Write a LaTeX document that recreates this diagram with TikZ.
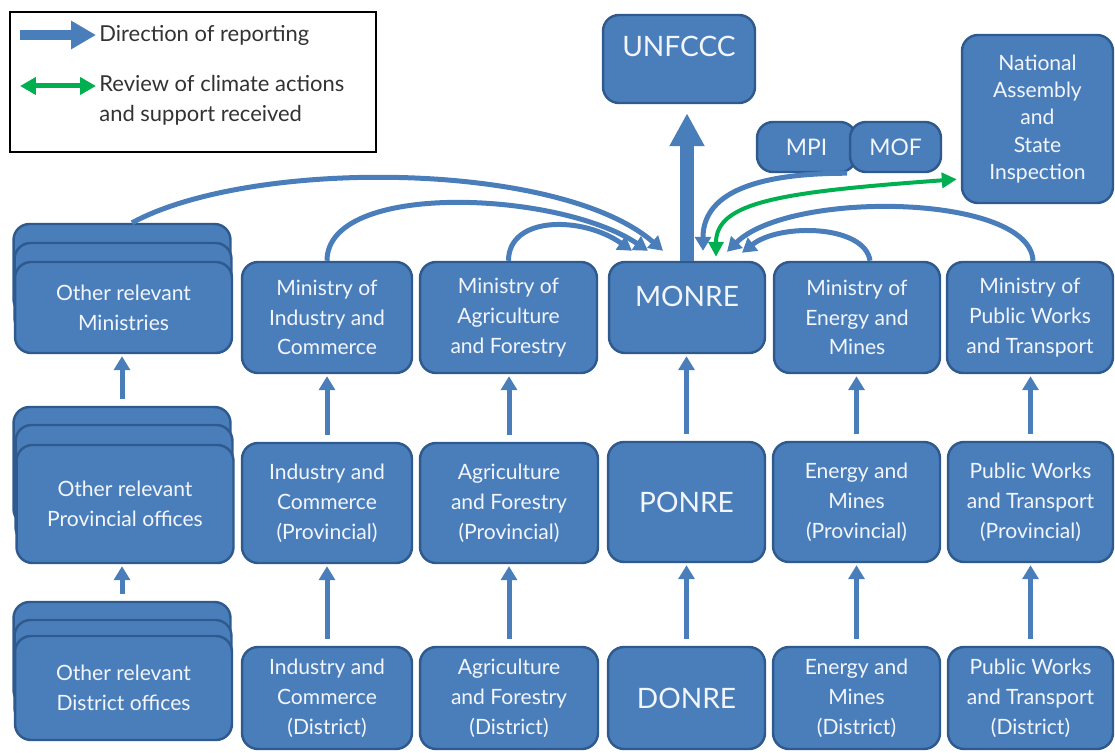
\documentclass[tikz,border=0pt]{standalone}
\usepackage{fontspec}
\setmainfont{Lato}
\usetikzlibrary{arrows.meta}
\definecolor{boxfill}{HTML}{4A7EBB}
\definecolor{boxedge}{HTML}{2F5A8E}
\definecolor{flowblue}{HTML}{4A7EBB}
\definecolor{reviewgreen}{HTML}{00B050}
\definecolor{keytext}{HTML}{333333}
\definecolor{boxtext}{HTML}{F2F5FA}
\tikzset{
    agency/.style={draw=boxedge, fill=boxfill, line width=1.4pt, rounded corners=0.32cm,
        text=boxtext, align=center, inner sep=2pt, font=\fontsize{12}{17}\selectfont},
    bigtext/.style={font=\fontsize{16}{19}\selectfont},
    report/.style={draw=flowblue, line width=0.1cm, -{Triangle[width=0.32cm,length=0.28cm]},
        shorten <=0.14cm, shorten >=0.04cm},
    bend report/.style={draw=flowblue, line width=0.1cm, -{Triangle[width=0.32cm,length=0.28cm]}},
    upward/.style={draw=flowblue, line width=0.28cm, -{Triangle[width=0.66cm,length=0.66cm]},
        shorten >=0.18cm},
    review/.style={draw=reviewgreen, line width=0.08cm,
        {Triangle[width=0.3cm,length=0.3cm]}-{Triangle[width=0.3cm,length=0.3cm]}},
    keytext/.style={text=keytext, anchor=west, align=left, inner sep=0pt,
        font=\fontsize{12.5}{17}\selectfont}
}

\begin{document}
\begin{tikzpicture}[x=0.02cm, y=-0.02cm]
    \useasboundingbox (0,0) rectangle (1115,753);

    %legend
    \node[draw=black, line width=0.8pt, fill=white, minimum width=7.32cm, minimum height=2.8cm] (key) at (193,82) {};
    \coordinate (kb1) at (20,35);
    \coordinate (kb2) at (96,35);
    \coordinate (kg1) at (20,86);
    \coordinate (kg2) at (96,86);
    \draw[draw=flowblue, line width=0.2cm, -{Triangle[width=0.54cm,length=0.5cm]}] (kb1) -- (kb2);
    \draw[draw=reviewgreen, line width=0.1cm,
        {Triangle[width=0.34cm,length=0.32cm]}-{Triangle[width=0.34cm,length=0.32cm]}] (kg1) -- (kg2);
    \node[keytext] (kbt) at (99,35) {Direction of reporting};
    \node[keytext] (kgt) at (99,100) {Review of climate actions\\and support received};

    %top level
    \node[agency, bigtext, text depth=0.5cm, minimum width=3.04cm, minimum height=1.76cm] (unfccc) at (679,59) {UNFCCC};
    \node[agency, font=\fontsize{13}{17}\selectfont, minimum width=1.98cm, minimum height=1cm] (mpi) at (806.5,147) {MPI};
    \node[agency, font=\fontsize{13}{17}\selectfont, minimum width=1.82cm, minimum height=1cm] (mof) at (895.5,147) {MOF};
    \node[agency, font=\fontsize{12}{15.6}\selectfont, minimum width=3.02cm, minimum height=3.36cm] (nasm) at (1037.5,119)
        {National\\Assembly\\and\\State\\Inspection};

    %ministries
    \node[agency, minimum width=4.34cm, minimum height=1.82cm] (othMin3) at (122,269.5) {};
    \node[agency, minimum width=4.34cm, minimum height=1.82cm] (othMin2) at (123,288.5) {};
    \node[agency, minimum width=4.34cm, minimum height=1.82cm] (othMin) at (123.5,307.5) {Other relevant\\Ministries};
    \node[agency, minimum width=3.4cm, minimum height=2.22cm] (indMin) at (327,317.5) {Ministry of\\Industry and\\Commerce};
    \node[agency, minimum width=3.54cm, minimum height=2.22cm] (agrMin) at (508.5,317.5) {Ministry of\\Agriculture\\and Forestry};
    \node[agency, bigtext, text depth=0.45cm, minimum width=3.12cm, minimum height=1.82cm] (monre) at (687,307.5) {MONRE};
    \node[agency, minimum width=3.32cm, minimum height=2.22cm] (eneMin) at (857,317.5) {Ministry of\\Energy and\\Mines};
    \node[agency, minimum width=3.32cm, minimum height=2.22cm] (pwtMin) at (1030,317.5) {Ministry of\\Public Works\\and Transport};

    %provincial
    \node[agency, minimum width=4.34cm, minimum height=2.36cm] (othProv3) at (122,466) {};
    \node[agency, minimum width=4.34cm, minimum height=2.36cm] (othProv2) at (124,484) {};
    \node[agency, minimum width=4.34cm, minimum height=2.36cm] (othProv) at (125,504) {Other relevant\\Provincial offices};
    \node[agency, minimum width=3.4cm, minimum height=2.4cm] (indProv) at (327,503) {Industry and\\Commerce\\(Provincial)};
    \node[agency, minimum width=3.56cm, minimum height=2.4cm] (agrProv) at (509,503) {Agriculture\\and Forestry\\(Provincial)};
    \node[agency, bigtext, minimum width=3.14cm, minimum height=2.4cm] (ponre) at (686.5,502) {PONRE};
    \node[agency, minimum width=3.34cm, minimum height=2.4cm] (eneProv) at (856.5,502) {Energy and\\Mines\\(Provincial)};
    \node[agency, minimum width=3.3cm, minimum height=2.4cm] (pwtProv) at (1030.5,502) {Public Works\\and Transport\\(Provincial)};

    %district
    \node[agency, minimum width=4.34cm, minimum height=2.08cm] (othDist3) at (122,654) {};
    \node[agency, minimum width=4.34cm, minimum height=2.08cm] (othDist2) at (123,672) {};
    \node[agency, minimum width=4.34cm, minimum height=2.08cm] (othDist) at (123.5,688) {Other relevant\\District offices};
    \node[agency, minimum width=3.4cm, minimum height=2.04cm] (indDist) at (327,698) {Industry and\\Commerce\\(District)};
    \node[agency, minimum width=3.56cm, minimum height=2.04cm] (agrDist) at (509,698) {Agriculture\\and Forestry\\(District)};
    \node[agency, bigtext, minimum width=3.14cm, minimum height=2.04cm] (donre) at (686.5,698) {DONRE};
    \node[agency, minimum width=3.34cm, minimum height=2.04cm] (eneDist) at (856.5,698) {Energy and\\Mines\\(District)};
    \node[agency, minimum width=3.3cm, minimum height=2.04cm] (pwtDist) at (1030.5,698) {Public Works\\and Transport\\(District)};

    %straight reporting lines
    \foreach \lo/\hi in {othDist3/othProv, indDist/indProv, agrDist/agrProv, donre/ponre, eneDist/eneProv, pwtDist/pwtProv,
                         othProv3/othMin, indProv/indMin, agrProv/agrMin, ponre/monre, eneProv/eneMin, pwtProv/pwtMin}
    {
        \draw[report] (\lo.north) -- (\lo.north |- \hi.south);
    }
    \draw[upward] (monre.north) -- (monre.north |- unfccc.south);

    %landing points on MONRE
    \coordinate (inAgr) at ([xshift=-1.1cm,yshift=0.2cm]monre.north);
    \coordinate (inInd) at ([xshift=-0.78cm,yshift=0.2cm]monre.north);
    \coordinate (inOth) at ([xshift=-0.48cm,yshift=0.2cm]monre.north);
    \coordinate (inMpi) at ([xshift=0.32cm,yshift=0.2cm]monre.north);
    \coordinate (inRev) at ([xshift=0.58cm,yshift=0.08cm]monre.north);
    \coordinate (inPwt) at ([xshift=0.8cm,yshift=0.18cm]monre.north);
    \coordinate (inEne) at ([xshift=1.1cm,yshift=0.16cm]monre.north);

    %curved reporting lines
    \draw[bend report] (agrMin.north) .. controls +(0cm,0.9cm) and +(-1cm,0.7cm) .. (inAgr);
    \draw[bend report] (indMin.north) .. controls +(0cm,1.6cm) and +(-1.8cm,1.2cm) .. (inInd);
    \draw[bend report] ([xshift=0.2cm]othMin3.north) .. controls +(2.4cm,1.3cm) and +(-2.06cm,1.8cm) .. (inOth);
    \draw[bend report] ([xshift=0.26cm]eneMin.north) .. controls +(-0.1cm,0.72cm) and +(0.76cm,0.6cm) .. (inEne);
    \draw[bend report] ([xshift=0.06cm]pwtMin.north) .. controls +(-0.06cm,1.34cm) and +(1.26cm,1.24cm) .. (inPwt);
    \draw[bend report] ([xshift=-0.2cm]mpi.south east) .. controls +(-1.96cm,0cm) and +(0cm,1.1cm) .. (inMpi);

    %review
    \draw[review, shorten >=0.08cm] (inRev) .. controls +(0cm,1.1cm) and +(-3.6cm,-0.26cm) .. ([yshift=-1.2cm]nasm.west);
\end{tikzpicture}
\end{document}
